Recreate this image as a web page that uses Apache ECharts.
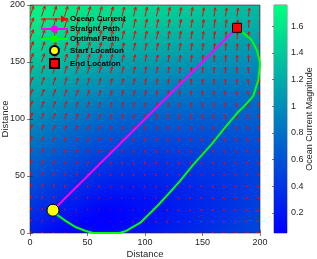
<!DOCTYPE html>
<html><head><meta charset="utf-8">
<script src="https://cdn.jsdelivr.net/npm/echarts@6/dist/echarts.min.js"></script>
<style>
html,body{margin:0;padding:0;background:#fff;}
#wrap{position:relative;width:317px;height:259px;overflow:hidden;}
#bgClip{position:absolute;left:30px;top:5px;width:230px;height:228px;overflow:hidden;}
#bg{position:absolute;left:-5.75px;top:-5.7px;width:21px;height:21px;transform:scale(11.5,11.4);transform-origin:0 0;}
#main{position:absolute;left:0;top:0;width:317px;height:259px;}
</style></head>
<body><div id="wrap"><div id="bgClip"><div id="bg"></div></div><div id="main"></div></div>
<script>
// grid positions (distance units)
const gridX = [0,10,20,30,40,50,60,70,80,90,100,110,120,130,140,150,160,170,180,190,200];
const gridY = [0,10,20,30,40,50,60,70,80,90,100,110,120,130,140,150,160,170,180,190,200];
// ocean current east component (x100), one row per gridY value (bottom to top)
const uRows = [
[15,12,8,5,1,-2,-6,-9,-13,-16,-20,-23,-27,-30,-34,-37,-41,-44,-48,-51,-55],
[17,14,10,7,3,0,-4,-7,-10,-14,-17,-21,-24,-28,-31,-34,-38,-41,-45,-48,-52],
[19,16,12,9,6,2,-1,-4,-8,-11,-15,-18,-21,-25,-28,-31,-35,-38,-41,-45,-48],
[21,18,14,11,8,5,1,-2,-5,-8,-12,-15,-18,-22,-25,-28,-31,-35,-38,-41,-45],
[23,20,17,13,10,7,4,1,-3,-6,-9,-12,-15,-19,-22,-25,-28,-31,-35,-38,-41],
[25,22,19,16,12,9,6,3,0,-3,-6,-9,-13,-16,-19,-22,-25,-28,-31,-34,-38],
[27,24,21,18,15,12,9,6,3,0,-4,-7,-10,-13,-16,-19,-22,-25,-28,-31,-34],
[29,26,23,20,17,14,11,8,5,2,-1,-4,-7,-10,-13,-16,-19,-22,-25,-28,-31],
[31,28,25,22,19,17,14,11,8,5,2,-1,-4,-7,-10,-13,-15,-18,-21,-24,-27],
[33,30,27,25,22,19,16,13,10,8,5,2,-1,-4,-7,-9,-12,-15,-18,-21,-24],
[35,32,30,27,24,21,19,16,13,10,8,5,2,-1,-4,-6,-9,-12,-15,-17,-20],
[37,34,32,29,26,24,21,18,16,13,10,8,5,2,0,-3,-6,-8,-11,-14,-17],
[39,36,34,31,29,26,23,21,18,16,13,10,8,5,3,0,-3,-5,-8,-10,-13],
[41,38,36,33,31,28,26,23,21,18,16,13,11,8,6,3,1,-2,-4,-7,-10],
[43,41,38,36,33,31,28,26,23,21,19,16,14,11,9,6,4,1,-1,-4,-6],
[45,43,40,38,36,33,31,28,26,24,21,19,17,14,12,9,7,5,2,0,-3],
[47,45,42,40,38,36,33,31,29,26,24,22,19,17,15,13,10,8,6,3,1],
[49,47,45,42,40,38,36,33,31,29,27,25,22,20,18,16,13,11,9,7,5],
[51,49,47,45,42,40,38,36,34,32,30,27,25,23,21,19,17,14,12,10,8],
[53,51,49,47,45,43,41,38,36,34,32,30,28,26,24,22,20,18,16,14,12],
[55,53,51,49,47,45,43,41,39,37,35,33,31,29,27,25,23,21,19,17,15]
];
// ocean current north component (x100)
const vRows = [
[20,15,10,5,1,-3,-7,-10,-11,-11,-11,-10,-9,-8,-7,-6,-5,-4,-2,-1,0],
[27,22,18,13,9,5,1,-2,-3,-3,-3,-2,-1,-1,0,1,2,3,5,6,6],
[34,30,25,20,17,13,9,6,5,5,5,6,6,7,8,8,9,10,12,12,13],
[42,37,33,28,24,21,17,14,13,13,13,13,14,14,15,16,16,17,18,19,20],
[49,44,40,36,32,29,25,22,21,21,21,21,22,22,22,23,23,24,25,26,26],
[56,52,48,43,40,37,33,31,29,29,29,29,29,29,30,30,30,31,32,32,33],
[63,59,55,51,48,45,41,39,37,37,36,37,37,37,37,37,38,38,39,39,39],
[70,67,63,59,56,52,49,47,45,45,44,44,44,44,45,45,45,45,45,45,46],
[78,74,70,67,63,60,57,55,54,53,52,52,52,52,52,52,52,52,52,52,52],
[85,81,78,74,71,68,65,63,62,61,60,60,60,59,59,59,59,59,59,59,59],
[92,89,85,82,79,76,73,71,70,69,68,68,67,67,67,66,66,66,66,65,65],
[99,96,93,90,87,84,81,79,78,77,76,75,75,74,74,73,73,73,72,72,72],
[106,103,100,97,95,92,89,87,86,85,84,83,83,82,81,81,80,79,79,79,78],
[114,111,108,105,103,100,98,95,94,93,92,91,90,89,89,88,87,86,86,85,85],
[121,118,115,113,110,108,106,103,102,101,100,99,98,97,96,95,94,93,93,92,91],
[128,125,123,120,118,116,114,112,110,109,108,106,105,104,103,102,101,100,100,99,98],
[135,133,130,128,126,124,122,120,118,117,115,114,113,112,111,110,108,107,106,105,104],
[142,140,138,136,134,132,130,128,126,125,123,122,121,119,118,117,116,114,113,112,111],
[150,148,146,144,142,140,138,136,134,133,131,130,128,127,125,124,123,121,120,118,117],
[157,155,153,151,149,148,146,144,142,141,139,138,136,134,133,131,130,128,127,125,124],
[164,162,161,159,157,156,154,152,150,149,147,145,144,142,140,139,137,135,133,132,130]
];
const straightX = [20, 180];
const straightY = [20, 180];
const optimalX = [20,22,32,40,48,55,65,78,84,96,112,130,142,158,170,180,187,194,198.5,200,197.5,193,186,180];
const optimalY = [20,17,10,5,2,0,0,0,2,9,25,45,60,78,93,105,112,120,134,149,160,169,175,180];
const startLoc = [20, 20];
const endLoc = [180, 180];
const cbRange = [0.05, 1.76];
const cbTicks = [0.2, 0.4, 0.6, 0.8, 1, 1.2, 1.4, 1.6];
const seriesNames = ['Ocean Current','Straight Path','Optimal Path','Start Location','End Location'];

const FONT = 'Liberation Sans, Arial, Helvetica, sans-serif';
const TXT = '#262626';

const heat = [];
const quiver = [];
for (let j = 0; j < gridY.length; j++) {
  for (let i = 0; i < gridX.length; i++) {
    const u = uRows[j][i] / 100, v = vRows[j][i] / 100;
    heat.push([i, j, Math.hypot(u, v)]);
    quiver.push([gridX[i], gridY[j], u, v]);
  }
}
const bg = echarts.init(document.getElementById('bg'), null, {renderer:'canvas', width:21, height:21, devicePixelRatio:1});
bg.setOption({
  animation:false,
  grid:{left:0,right:0,top:0,bottom:0, outerBoundsMode:'none'},
  xAxis:{type:'category', data:gridX, show:false},
  yAxis:{type:'category', data:gridY, show:false},
  visualMap:{show:false, min:cbRange[0], max:cbRange[1], inRange:{color:['#0000ff','#00ff80']}},
  series:[{type:'heatmap', data:heat, itemStyle:{borderWidth:0}, emphasis:{disabled:true}, progressive:0}]
});

const ARROW_SCALE = 5.8;
function arrowItem(params, api) {
  const x = api.value(0), y = api.value(1), u = api.value(2), v = api.value(3);
  const p0 = api.coord([x, y]);
  const p1 = api.coord([x + u * ARROW_SCALE, y + v * ARROW_SCALE]);
  const dx = p1[0] - p0[0], dy = p1[1] - p0[1];
  const len = Math.hypot(dx, dy);
  if (len < 0.05) return null;
  const ang = Math.atan2(dy, dx);
  const hl = Math.min(len * 0.35, 3.5), ha = 0.45;
  const h1 = [p1[0] - hl * Math.cos(ang - ha), p1[1] - hl * Math.sin(ang - ha)];
  const h2 = [p1[0] - hl * Math.cos(ang + ha), p1[1] - hl * Math.sin(ang + ha)];
  const st = {stroke:'#ff0000', lineWidth:1, fill:null};
  return {type:'group', children:[
    {type:'line', shape:{x1:p0[0], y1:p0[1], x2:p1[0], y2:p1[1]}, style:st},
    {type:'polyline', shape:{points:[h1, p1, h2]}, style:st}
  ]};
}
function cbItem(params, api) {
  const a = api.coord([0, api.value(1)]);
  const b = api.coord([1, api.value(2)]);
  return {type:'rect', shape:{x:a[0], y:b[1], width:b[0]-a[0], height:a[1]-b[1]},
    style:{fill:new echarts.graphic.LinearGradient(0,1,0,0,[{offset:0,color:'#0000ff'},{offset:1,color:'#00ff80'}])}};
}

const tickStyle = {show:true, inside:true, length:3, lineStyle:{color:TXT, width:0.6}};
const lblStyle = {fontSize:9, color:TXT, fontFamily:FONT};
const main = echarts.init(document.getElementById('main'), null, {renderer:'canvas', devicePixelRatio:1});
main.setOption({
  animation:false,
  grid:[
    {left:30, top:5, width:230, height:228, outerBoundsMode:'none', show:true, borderColor:TXT, borderWidth:0.6, backgroundColor:'transparent'},
    {left:274, top:5, width:13, height:228, outerBoundsMode:'none', show:true, borderColor:TXT, borderWidth:0.6, backgroundColor:'transparent'}
  ],
  xAxis:[
    {type:'value', gridIndex:0, min:0, max:200, interval:50, axisLine:{show:false}, axisTick:tickStyle, splitLine:{show:false},
     axisLabel:Object.assign({margin:5}, lblStyle), name:'Distance', nameLocation:'middle', nameGap:16, nameMoveOverlap:false,
     nameTextStyle:{fontSize:9.5, color:TXT, fontFamily:FONT}},
    {type:'value', gridIndex:0, position:'top', min:0, max:200, interval:50, axisLine:{show:false}, axisTick:tickStyle, splitLine:{show:false}, axisLabel:{show:false}},
    {type:'value', gridIndex:1, min:0, max:1, show:false}
  ],
  yAxis:[
    {type:'value', gridIndex:0, min:0, max:200, interval:50, axisLine:{show:false}, axisTick:tickStyle, splitLine:{show:false},
     axisLabel:Object.assign({margin:5}, lblStyle), name:'Distance', nameLocation:'middle', nameGap:20, nameMoveOverlap:false,
     nameTextStyle:{fontSize:9.5, color:TXT, fontFamily:FONT}},
    {type:'value', gridIndex:0, position:'right', min:0, max:200, interval:50, axisLine:{show:false}, axisTick:tickStyle, splitLine:{show:false}, axisLabel:{show:false}},
    {type:'value', gridIndex:1, position:'right', min:cbRange[0], max:cbRange[1], axisLine:{show:false}, splitLine:{show:false},
     axisTick:{show:true, inside:true, length:2, lineStyle:{color:TXT, width:0.6}, customValues:cbTicks},
     axisLabel:Object.assign({margin:4, customValues:cbTicks}, lblStyle),
     name:'Ocean Current Magnitude', nameLocation:'middle', nameGap:18, nameRotate:90, nameMoveOverlap:false,
     nameTextStyle:{fontSize:9, color:TXT, fontFamily:FONT}}
  ],
  legend:{
    orient:'vertical', left:40, top:15, padding:0, itemWidth:27, itemHeight:9, itemGap:2,
    textStyle:{fontSize:8, fontWeight:'bold', color:'#000', fontFamily:FONT, padding:[0,0,0,-3]},
    data:[
      {name:seriesNames[0], icon:'path://M0,4.4L20,4.4L20,1.5L27,5L20,8.5L20,5.6L0,5.6Z'},
      seriesNames[1], seriesNames[2],
      {name:seriesNames[3], icon:'circle'},
      {name:seriesNames[4], icon:'path://M0,0L10,0L10,10L0,10Z'}
    ],
    selectedMode:false
  },
  series:[
    {name:seriesNames[0], type:'custom', xAxisIndex:0, yAxisIndex:0, data:quiver, renderItem:arrowItem, clip:true, z:2,
     itemStyle:{color:'#ff0000'}, silent:true},
    {name:seriesNames[1], type:'line', xAxisIndex:0, yAxisIndex:0, data:straightX.map((x,k)=>[x, straightY[k]]),
     symbol:'none', lineStyle:{color:'#ff00ff', width:2}, itemStyle:{color:'#ff00ff'}, z:3, silent:true},
    {name:seriesNames[2], type:'line', xAxisIndex:0, yAxisIndex:0, data:optimalX.map((x,k)=>[x, optimalY[k]]),
     symbol:'none', lineStyle:{color:'#00ff00', width:2}, itemStyle:{color:'#00ff00'}, z:3, silent:true},
    {name:seriesNames[3], type:'scatter', xAxisIndex:0, yAxisIndex:0, data:[startLoc], symbol:'circle', symbolSize:12,
     itemStyle:{color:'#ffff00', borderColor:'#000', borderWidth:1, opacity:1}, z:4, silent:true},
    {name:seriesNames[4], type:'scatter', xAxisIndex:0, yAxisIndex:0, data:[endLoc], symbol:'rect', symbolSize:9,
     itemStyle:{color:'#ff0000', borderColor:'#000', borderWidth:1, opacity:1}, z:4, silent:true},
    {type:'custom', xAxisIndex:2, yAxisIndex:2, data:[[0, cbRange[0], cbRange[1]]], renderItem:cbItem, silent:true, z:1}
  ]
});
</script></body></html>
